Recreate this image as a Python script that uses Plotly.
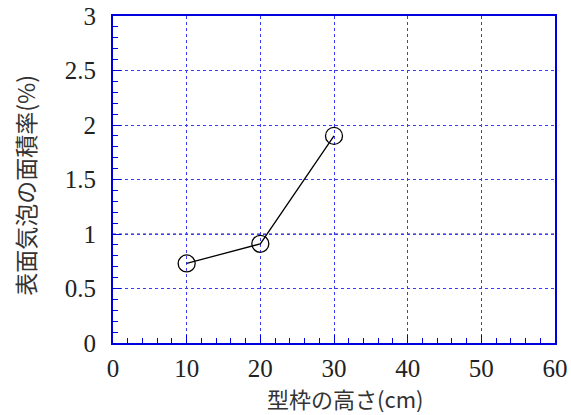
import plotly.graph_objects as go

heights = [10, 20, 30]
ratios = [0.73, 0.91, 1.9]
x_ticks = [0, 10, 20, 30, 40, 50, 60]
y_ticks = [0, 0.5, 1, 1.5, 2, 2.5, 3]
y_tick_text = ["0", "0.5", "1", "1.5", "2", "2.5", "3"]
x_title = "型枠の高さ(cm)"
y_title = "表面気泡の面積率(%)"

fig = go.Figure()
fig.add_trace(go.Scatter(
    x=heights, y=ratios, mode="lines+markers",
    line=dict(color="black", width=1.3),
    marker=dict(symbol="circle-open", size=17, color="black", line=dict(width=1.3)),
    showlegend=False, cliponaxis=False,
))
# emphasized reference line at y = 1
fig.add_hline(y=1, line=dict(color="#1a1aa0", width=1, dash="3px,3px"), layer="below")

grid_blue = "#3a3aff"
common = dict(
    showgrid=True, gridcolor=grid_blue, griddash="3px,3px", gridwidth=1,
    showline=True, linecolor="#0000dd", linewidth=2, mirror=True,
    ticks="inside", ticklen=8, tickcolor="#0000dd", tickwidth=1,
    zeroline=False, automargin=False,
    tickfont=dict(family="Liberation Serif", size=25, color="#222"),
)
fig.update_layout(
    width=571, height=415,
    margin=dict(l=113, r=16, t=16, b=72),
    plot_bgcolor="white", paper_bgcolor="white",
    font=dict(family="Liberation Serif, Noto Sans CJK JP", size=20, color="#222"),
    xaxis=dict(
        range=[0, 60], tickvals=x_ticks, ticktext=[str(v) for v in x_ticks],
        minor=dict(dtick=2, ticks="inside", ticklen=5, tickcolor="#0000dd", showgrid=False),
        ticklabelstandoff=2,
        **common,
    ),
    yaxis=dict(
        range=[0, 3], tickvals=y_ticks, ticktext=y_tick_text,
        minor=dict(dtick=0.1, ticks="inside", ticklen=5, tickcolor="#0000dd", showgrid=False),
        ticklabelstandoff=10,
        **common,
    ),
    annotations=[
        dict(text=x_title, xref="paper", yref="paper", x=0.525, y=-0.168,
             xanchor="center", yanchor="middle", showarrow=False,
             font=dict(family="Noto Sans CJK JP", size=22, color="#333")),
        dict(text=y_title, xref="paper", yref="paper", x=-0.2, y=0.483,
             xanchor="center", yanchor="middle", showarrow=False, textangle=-90,
             font=dict(family="Noto Sans CJK JP", size=23, color="#333")),
    ],
)
fig.write_html("out.html", config={"displayModeBar": False},
               post_script="document.body.style.margin='0';")
